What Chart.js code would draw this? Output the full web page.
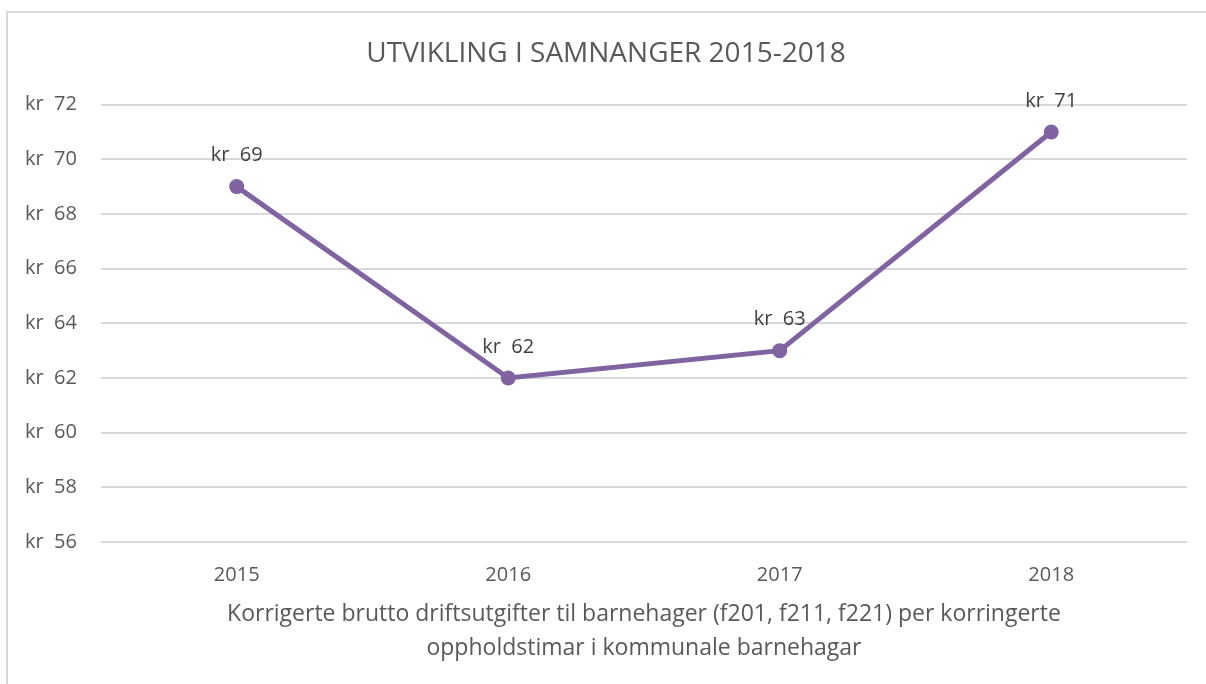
<!DOCTYPE html>
<html>
<head>
<meta charset="utf-8">
<script src="https://cdn.jsdelivr.net/npm/chart.js@4"></script>
<style>
  html, body { margin: 0; padding: 0; background: #fff; }
  #wrap { position: relative; width: 1206px; height: 684px; overflow: hidden; }
  #frame { position: absolute; left: 6px; top: 11px; width: 1220px; height: 700px; border: 2px solid #d9d9d9; box-sizing: border-box; }
  canvas { position: absolute; left: 0; top: 0; }
</style>
</head>
<body>
<div id="wrap">
  <div id="frame"></div>
  <canvas id="chart" width="1206" height="684"></canvas>
</div>
<script>
const years = ['2015', '2016', '2017', '2018'];
const costPerHour = [69, 62, 63, 71];
const yMin = 56;
const yMax = 72;
const titleText = 'UTVIKLING I SAMNANGER 2015-2018';
const xTitle = ['Korrigerte brutto driftsutgifter til barnehager (f201, f211, f221) per korringerte', 'oppholdstimar i kommunale barnehagar'];

const fontFam = '"Open Sans", "Noto Sans", sans-serif';

// draws "kr  69" above each point
const pointLabels = {
    id: 'pointLabels',
    afterDatasetsDraw(chart) {
        const ctx = chart.ctx;
        const meta = chart.getDatasetMeta(0);
        ctx.save();
        ctx.font = '20px ' + fontFam;
        ctx.fillStyle = '#404040';
        ctx.textAlign = 'center';
        ctx.textBaseline = 'middle';
        meta.data.forEach(function (pt, i) {
            ctx.fillText('kr  ' + costPerHour[i], pt.x, pt.y - 31);
        });
        ctx.restore();
    }
};

new Chart(document.getElementById('chart').getContext('2d'), {
    type: 'line',
    data: {
        labels: years,
        datasets: [{
            data: costPerHour,
            borderColor: '#8064a2',
            backgroundColor: '#8064a2',
            borderWidth: 5,
            tension: 0,
            pointRadius: 7.5,
            pointBorderWidth: 0,
            pointBackgroundColor: '#8064a2'
        }]
    },
    options: {
        responsive: false,
        animation: false,
        layout: { padding: { left: 25, right: 19, top: 37, bottom: 18 } },
        plugins: {
            legend: { display: false },
            tooltip: { enabled: false },
            title: {
                display: true,
                text: titleText,
                color: '#595959',
                font: { family: fontFam, size: 28, weight: 'normal', lineHeight: 1.2 },
                padding: { top: 0, bottom: 34 }
            }
        },
        scales: {
            x: {
                offset: true,
                grid: { display: false },
                border: { display: false },
                ticks: {
                    color: '#595959',
                    font: { family: fontFam, size: 20 },
                    padding: 13
                },
                title: {
                    display: true,
                    text: xTitle,
                    color: '#595959',
                    font: { family: fontFam, size: 23, lineHeight: 1.5 },
                    padding: { top: -3, bottom: 0 }
                }
            },
            y: {
                min: yMin,
                max: yMax,
                grid: { color: '#d9d9d9', lineWidth: 2, drawTicks: false },
                border: { display: false },
                ticks: {
                    stepSize: 2,
                    color: '#595959',
                    font: { family: fontFam, size: 20 },
                    padding: 12,
                    crossAlign: 'far',
                    callback: function (v) { return 'kr  ' + v; }
                }
            }
        }
    },
    plugins: [pointLabels]
});
</script>
</body>
</html>
